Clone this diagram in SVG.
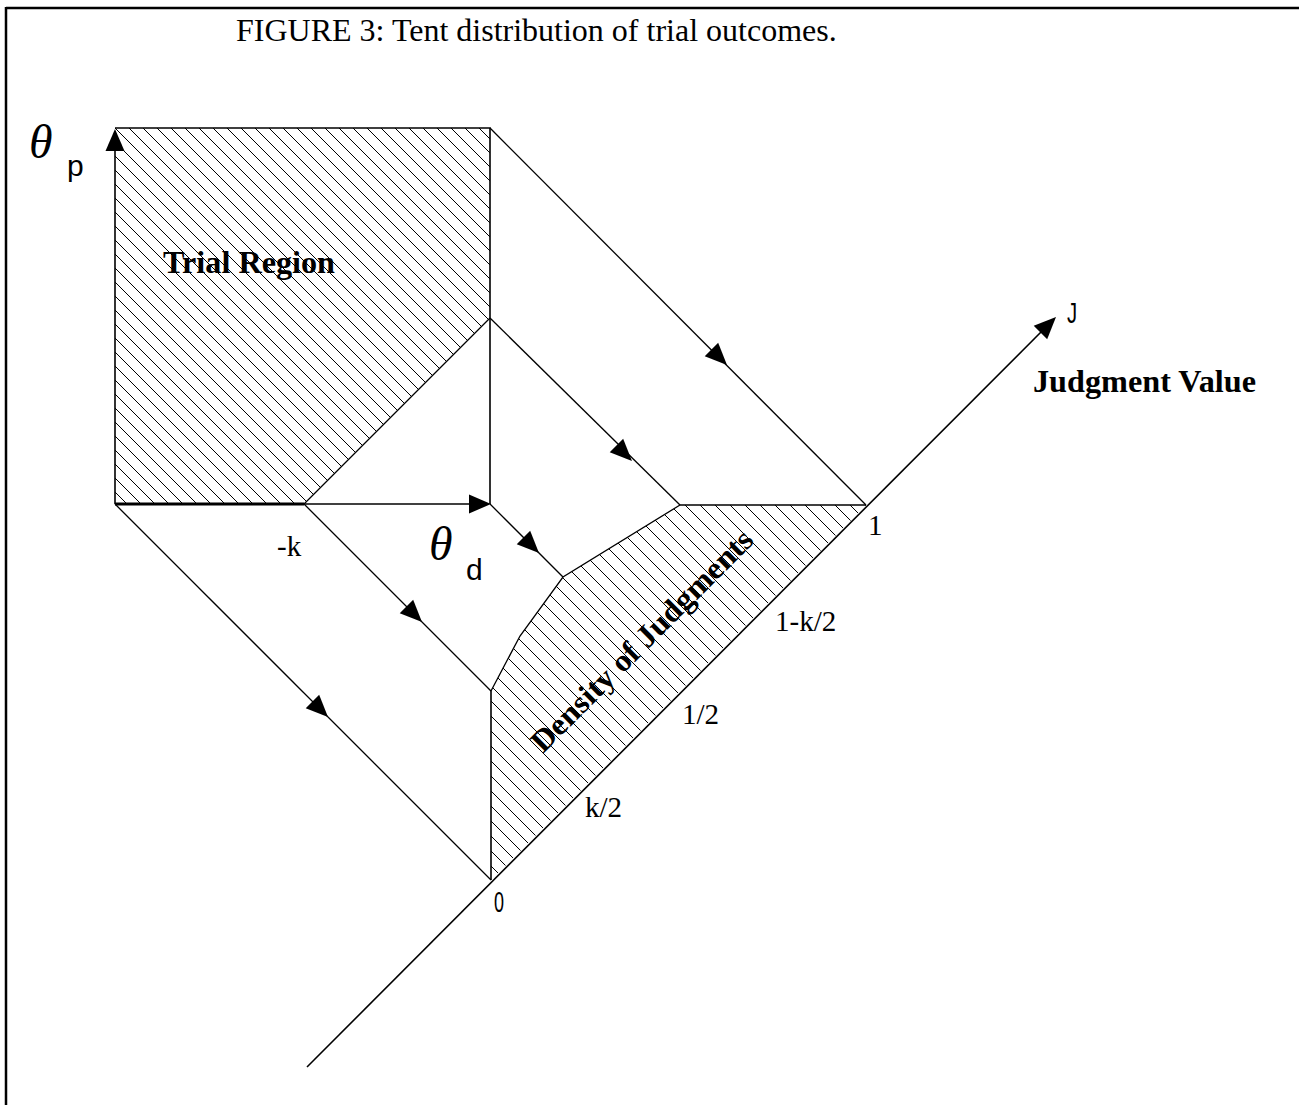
<svg xmlns="http://www.w3.org/2000/svg" xmlns:xlink="http://www.w3.org/1999/xlink" width="1299" height="1105" viewBox="0 0 1299 1105">
<style>
.ln{stroke:#000;stroke-width:1.6;fill:none}
.thin{stroke:#000;stroke-width:1.3;fill:none}
.serif{font-family:"Liberation Serif","Times New Roman",serif;fill:#000}
.sans{font-family:"Liberation Sans",Arial,sans-serif;fill:#000}
.bold{font-family:"Liberation Serif","Times New Roman",serif;font-weight:bold;font-size:31px;fill:#000}
.lbl{font-size:29px}
.theta{font-family:"Liberation Serif","Times New Roman",serif;font-style:italic;font-size:48px;fill:#000}
</style>
<defs>
<pattern id="hatchA" patternUnits="userSpaceOnUse" width="14" height="14" x="1">
<path d="M-1,-1 L15,15 M13,-1 L15,1 M-1,13 L1,15" stroke="#000" stroke-width="1"/>
</pattern>
<pattern id="hatchB" patternUnits="userSpaceOnUse" width="15" height="15">
<path d="M-1,-1 L16,16 M14,-1 L16,1 M-1,14 L1,16" stroke="#000" stroke-width="1"/>
</pattern>
<path id="ah" d="M0,0 L-22,-9.5 L-22,9.5 Z" fill="#000"/>
</defs>
<rect x="0" y="0" width="1299" height="1105" fill="#fff"/>
<g id="frame">
<line x1="6" y1="8" x2="1299" y2="8" stroke="#000" stroke-width="2.5"/>
<line x1="6" y1="7" x2="6" y2="1105" stroke="#000" stroke-width="2.5"/>
</g>
<g id="title">
<text class="serif" x="236" y="41" font-size="32">FIGURE 3: Tent distribution of trial outcomes.</text>
</g>
<g id="trial-region">
<path d="M115,128 L490,128 L490,318 L304,504 L115,504 Z" fill="url(#hatchA)"/>
<path class="ln" d="M115,128 L490,128 L490,504"/>
<line class="thin" x1="304" y1="504" x2="490" y2="318"/>
<line x1="115" y1="504" x2="304" y2="504" stroke="#000" stroke-width="3"/>
<text class="bold" x="163" y="273" textLength="172" lengthAdjust="spacingAndGlyphs">Trial Region</text>
</g>
<g id="density">
<path d="M491,880 L491,691 L520,636 L563,577 L680,505 L866,505 Z" fill="url(#hatchB)"/>
<path class="thin" d="M491,691 L520,636 L563,577 L680,505"/>
<line class="ln" x1="491" y1="691" x2="491" y2="880"/>
<line class="ln" x1="680" y1="505" x2="866" y2="505"/>
<text class="bold" transform="translate(543,754) rotate(-45)" textLength="300" lengthAdjust="spacingAndGlyphs">Density of Judgments</text>
</g>
<g id="connectors">
<line class="ln" x1="115" y1="504" x2="115" y2="132"/>
<line class="ln" x1="304" y1="504" x2="486" y2="504"/>
<line class="ln" x1="307" y1="1067" x2="1052" y2="321"/>
<line class="thin" x1="490" y1="128" x2="866" y2="505"/>
<line class="thin" x1="490" y1="318" x2="680" y2="505"/>
<line class="thin" x1="490" y1="504" x2="563" y2="577"/>
<line class="thin" x1="304" y1="504" x2="491" y2="691"/>
<line class="thin" x1="115" y1="504" x2="491" y2="880"/>
<use xlink:href="#ah" transform="translate(115,129) rotate(-90)"/>
<use xlink:href="#ah" transform="translate(491,504)"/>
<use xlink:href="#ah" transform="translate(1056,317) rotate(-45)"/>
<use xlink:href="#ah" transform="translate(727,365) rotate(45)"/>
<use xlink:href="#ah" transform="translate(632,461) rotate(45)"/>
<use xlink:href="#ah" transform="translate(539,553) rotate(45)"/>
<use xlink:href="#ah" transform="translate(422,622) rotate(45)"/>
<use xlink:href="#ah" transform="translate(328,717) rotate(45)"/>
</g>
<g id="labels">
<text class="theta" x="29" y="158">θ</text>
<text class="sans" x="67" y="176" font-size="30">p</text>
<text class="theta" x="429" y="560">θ</text>
<text class="sans" x="466" y="580" font-size="30">d</text>
<text class="serif lbl" x="277" y="556">-k</text>
<text class="serif lbl" x="868" y="535">1</text>
<text class="serif lbl" x="775" y="631">1-k/2</text>
<text class="serif lbl" x="682" y="724">1/2</text>
<text class="serif lbl" x="585" y="817">k/2</text>
<text class="sans" transform="translate(494,912) scale(0.6,1)" font-size="30">0</text>
<text class="sans" transform="translate(1067,323) scale(0.7,1)" font-size="29">J</text>
<text class="bold" x="1033" y="392" textLength="223" lengthAdjust="spacingAndGlyphs">Judgment Value</text>
</g>
</svg>
